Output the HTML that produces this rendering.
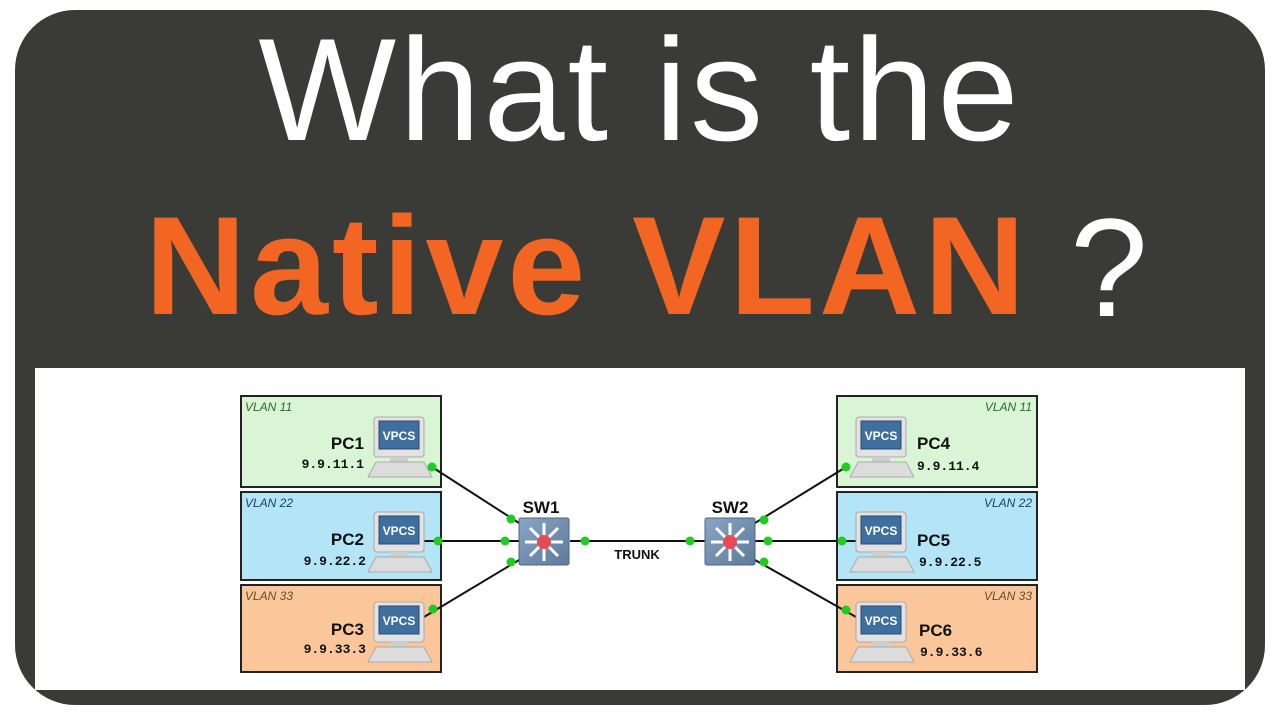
<!DOCTYPE html>
<html><head><meta charset="utf-8"><style>
html,body{margin:0;padding:0;background:#fff;}
body{width:1280px;height:720px;position:relative;overflow:hidden;font-family:"Liberation Sans",sans-serif;}
.frame{position:absolute;left:15px;top:10px;width:1250px;height:695px;background:#3a3b37;border-radius:60px;}
.inner{position:absolute;left:35px;top:368px;width:1210px;height:322px;background:#fff;}
.t1{position:absolute;left:0;width:1280px;top:17px;text-align:center;color:#fff;font-size:146px;line-height:146px;letter-spacing:3px;}
.t2{position:absolute;left:145px;top:196px;color:#f26522;font-size:140px;line-height:140px;font-weight:bold;white-space:nowrap;letter-spacing:4px;}
.q{position:absolute;left:1070px;top:198px;color:#fff;font-size:140px;line-height:140px;}
svg{position:absolute;left:0;top:0;}
</style></head><body>
<div class="frame"></div>
<div class="inner"></div>
<div class="t1">What is the</div>
<div class="t2">Native VLAN</div>
<div class="q">?</div>
<svg width="1280" height="720" viewBox="0 0 1280 720">
<defs>
<g id="pc">
<rect x="0" y="0" width="50" height="40" rx="3" fill="#e2e2e2" stroke="#aaa"/>
<rect x="5" y="4" width="40" height="28" fill="#3f6f9e" stroke="#2a4a6e"/>
<rect x="16" y="40" width="18" height="5" fill="#cfcfcf"/>
<polygon points="-6,60 58,60 50,45 2,45" fill="#dcdcdc" stroke="#aaa"/>
</g>
<linearGradient id="sw" x1="0" y1="0" x2="1" y2="1"><stop offset="0" stop-color="#8aa5c4"/><stop offset="1" stop-color="#5d7a9c"/></linearGradient>
<g id="sw1">
<rect x="0" y="0" width="50" height="47" rx="2" fill="url(#sw)" stroke="#4d6684"/>
<g stroke="#fff" stroke-width="3"><line x1="6" y1="24" x2="44" y2="24"/><line x1="25" y1="5" x2="25" y2="43"/><line x1="11" y1="10" x2="39" y2="38"/><line x1="39" y1="10" x2="11" y2="38"/></g>
<circle cx="25" cy="24" r="7" fill="#e84a55"/>
</g>
</defs>
<g font-family="Liberation Sans, sans-serif">
<rect x="241" y="396" width="200" height="91" fill="#d9f5d6" stroke="#222" stroke-width="2"/>
<rect x="241" y="492" width="200" height="88" fill="#b3e5f7" stroke="#222" stroke-width="2"/>
<rect x="241" y="585" width="200" height="87" fill="#fbc79a" stroke="#222" stroke-width="2"/>
<rect x="837" y="396" width="200" height="91" fill="#d9f5d6" stroke="#222" stroke-width="2"/>
<rect x="837" y="492" width="200" height="88" fill="#b3e5f7" stroke="#222" stroke-width="2"/>
<rect x="837" y="585" width="200" height="87" fill="#fbc79a" stroke="#222" stroke-width="2"/>
<g font-size="12" font-style="italic">
<text x="245" y="411" fill="#2b6b2b">VLAN 11</text>
<text x="245" y="507" fill="#1d3d6b">VLAN 22</text>
<text x="245" y="600" fill="#6b4a2b">VLAN 33</text>
<text x="1032" y="411" fill="#2b6b2b" text-anchor="end">VLAN 11</text>
<text x="1032" y="507" fill="#1d3d6b" text-anchor="end">VLAN 22</text>
<text x="1032" y="600" fill="#6b4a2b" text-anchor="end">VLAN 33</text>
</g>
<g stroke="#111" stroke-width="2">
<line x1="432" y1="467" x2="519" y2="523"/>
<line x1="424" y1="541" x2="519" y2="541"/>
<line x1="424" y1="617" x2="519" y2="560"/>
<line x1="570" y1="541" x2="705" y2="541"/>
<line x1="755" y1="523" x2="846" y2="467"/>
<line x1="755" y1="541" x2="856" y2="541"/>
<line x1="755" y1="560" x2="856" y2="617"/>
</g>
<use href="#pc" x="374" y="417"/><use href="#pc" x="374" y="512"/><use href="#pc" x="374" y="602"/>
<use href="#pc" x="856" y="417"/><use href="#pc" x="856" y="512"/><use href="#pc" x="856" y="602"/>
<g fill="#fff" font-size="12" font-weight="bold" text-anchor="middle">
<text x="399" y="440">VPCS</text><text x="399" y="535">VPCS</text><text x="399" y="625">VPCS</text>
<text x="881" y="440">VPCS</text><text x="881" y="535">VPCS</text><text x="881" y="625">VPCS</text>
</g>
<use href="#sw1" x="519" y="518"/><use href="#sw1" x="705" y="518"/>
<g font-weight="bold" font-size="17" fill="#111">
<text x="364" y="449" text-anchor="end">PC1</text>
<text x="364" y="545" text-anchor="end">PC2</text>
<text x="364" y="635" text-anchor="end">PC3</text>
<text x="917" y="449">PC4</text>
<text x="917" y="546">PC5</text>
<text x="919" y="636">PC6</text>
<text x="541" y="513" text-anchor="middle">SW1</text>
<text x="730" y="513" text-anchor="middle">SW2</text>
</g>
<g font-family="Liberation Mono, monospace" font-weight="bold" font-size="13" fill="#111">
<text x="364" y="468" text-anchor="end">9.9.11.1</text>
<text x="366" y="565" text-anchor="end">9.9.22.2</text>
<text x="366" y="653" text-anchor="end">9.9.33.3</text>
<text x="917" y="470">9.9.11.4</text>
<text x="919" y="566">9.9.22.5</text>
<text x="920" y="656">9.9.33.6</text>
</g>
<text x="637" y="559" text-anchor="middle" font-weight="bold" font-size="13" fill="#111">TRUNK</text>
<g fill="#1fcc1f">
<circle cx="432" cy="467" r="4.5"/><circle cx="438" cy="541" r="4.5"/><circle cx="433" cy="609" r="4.5"/>
<circle cx="511" cy="519" r="4.5"/><circle cx="505" cy="541" r="4.5"/><circle cx="511" cy="562" r="4.5"/>
<circle cx="585" cy="541" r="4.5"/><circle cx="690" cy="541" r="4.5"/>
<circle cx="764" cy="520" r="4.5"/><circle cx="768" cy="541" r="4.5"/><circle cx="764" cy="562" r="4.5"/>
<circle cx="846" cy="467" r="4.5"/><circle cx="842" cy="541" r="4.5"/><circle cx="846" cy="610" r="4.5"/>
</g>
</g>
</svg>
</body></html>
